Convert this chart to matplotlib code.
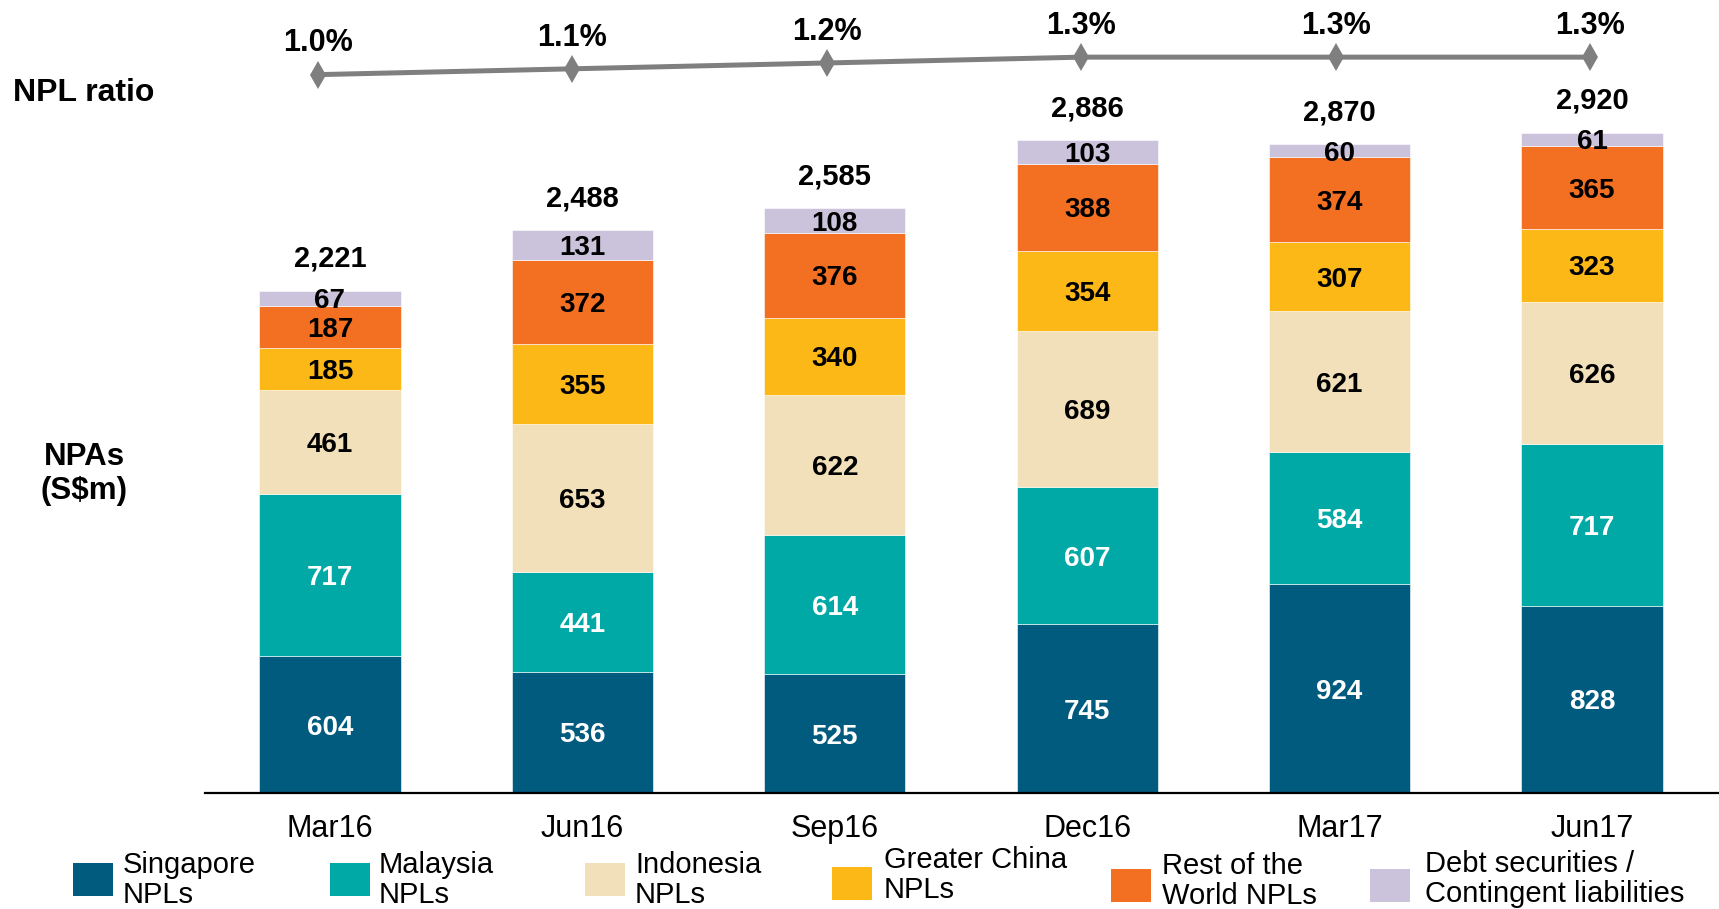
import matplotlib.pyplot as plt
from matplotlib.patches import Rectangle

plt.rcParams['font.family'] = ['Liberation Sans', 'DejaVu Sans']

# data
quarters = ['Mar16', 'Jun16', 'Sep16', 'Dec16', 'Mar17', 'Jun17']
singapore = [604, 536, 525, 745, 924, 828]
malaysia = [717, 441, 614, 607, 584, 717]
indonesia = [461, 653, 622, 689, 621, 626]
greater_china = [185, 355, 340, 354, 307, 323]
rest_of_world = [187, 372, 376, 388, 374, 365]
debt_contingent = [67, 131, 108, 103, 60, 61]
npl_ratio = [1.0, 1.1, 1.2, 1.3, 1.3, 1.3]

series = [
    ('Singapore\nNPLs', singapore, '#005b7f', 'white'),
    ('Malaysia\nNPLs', malaysia, '#00a9a5', 'white'),
    ('Indonesia\nNPLs', indonesia, '#f1e0b9', 'black'),
    ('Greater China\nNPLs', greater_china, '#fbb817', 'black'),
    ('Rest of the\nWorld NPLs', rest_of_world, '#f37022', 'black'),
    ('Debt securities /\nContingent liabilities', debt_contingent, '#cbc3dc', 'black'),
]

W, H = 1719, 909
fig = plt.figure(figsize=(W / 100, H / 100), dpi=100)
rect_ax = [205 / W, (H - 793) / H, 1 - 205 / W, 793 / H]
ax = fig.add_axes(rect_ax)

x = list(range(len(quarters)))
bottom = [0] * len(quarters)
for name, vals, col, tcol in series:
    bars = ax.bar(x, vals, width=0.56, bottom=bottom, color=col,
                  edgecolor='white', linewidth=0.4)
    for rect, v in zip(bars, vals):
        ax.text(rect.get_x() + rect.get_width() / 2, rect.get_y() + v / 2, f'{v:,}',
                ha='center', va='center_baseline', fontsize=20, fontweight='bold',
                color=tcol)
    bottom = [b + v for b, v in zip(bottom, vals)]

# totals above the stacks
for xi, tot in zip(x, bottom):
    ax.annotate(f'{tot:,}', (xi, tot), xytext=(0, 25), textcoords='offset points',
                ha='center', va='center_baseline', fontsize=21, fontweight='bold')

ax.set_xlim(-0.495, 5.503)
ax.set_ylim(0, 3506)
ax.set_yticks([])
ax.set_xticks(x)
ax.set_xticklabels(quarters, fontsize=22)
ax.tick_params(axis='x', length=0, pad=15)
for s in ['top', 'right', 'left']:
    ax.spines[s].set_visible(False)
ax.spines['bottom'].set_linewidth(1.6)

# NPL ratio line on its own overlay axes (slightly different x spacing)
ax2 = fig.add_axes(rect_ax)
ax2.patch.set_visible(False)
ax2.plot(x, npl_ratio, color='#7f7f7f', lw=3.6, marker='d', markersize=14,
         markeredgewidth=0, solid_capstyle='round')
for xi, r in zip(x, npl_ratio):
    ax2.annotate(f'{r:.1f}%', (xi, r), xytext=(0, 25), textcoords='offset points',
                 ha='center', va='center_baseline', fontsize=22, fontweight='bold')
ax2.set_xlim(-0.444, 5.505)
ax2.set_ylim(-11.32, 2.28)
ax2.axis('off')

fig.text(13 / W, 1 - 93 / H, 'NPL ratio', fontsize=23, fontweight='bold',
         ha='left', va='center')
fig.text(84 / W, 1 - 474 / H, 'NPAs\n(S$m)', fontsize=22.5, fontweight='bold',
         ha='center', va='center', linespacing=1.15)

# legend drawn by hand to keep the spread-out layout
marker_x = [73, 330, 585, 832, 1111, 1370]
marker_y = [863, 863, 863, 867, 869, 869]
text_x = [123, 379, 635, 884, 1162, 1425]
text_y = [880, 880, 880, 875, 881, 879]
for (name, vals, col, tcol), mx, my, tx, ty in zip(series, marker_x, marker_y, text_x, text_y):
    fig.add_artist(Rectangle((mx / W, 1 - (my + 33) / H), 40 / W, 33 / H,
                             transform=fig.transFigure, color=col, lw=0))
    fig.text(tx / W, 1 - ty / H, name, fontsize=21, ha='left', va='center',
             linespacing=1.05)

fig.savefig('out.png', dpi=100)
